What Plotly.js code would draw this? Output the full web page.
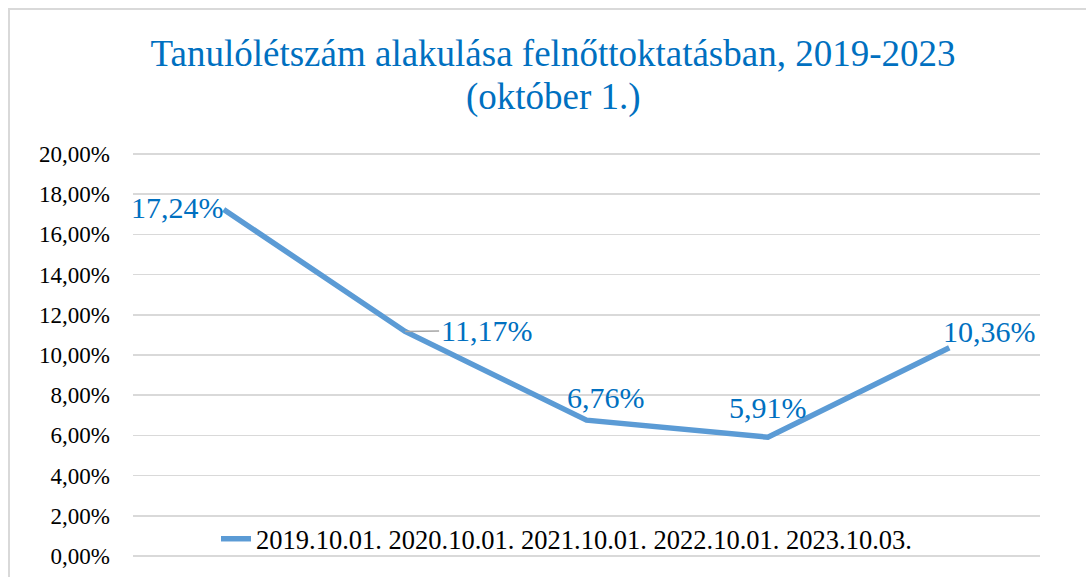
<!DOCTYPE html>
<html>
<head>
<meta charset="utf-8">
<script src="https://cdn.plot.ly/plotly-3.0.1.min.js"></script>
<style>
  html, body { margin: 0; padding: 0; background: #fff; }
  #chart { width: 1086px; height: 577px; }
</style>
</head>
<body>
<div id="chart"></div>
<script>
// ---- data ----
const dates = ['2019.10.01.', '2020.10.01.', '2021.10.01.', '2022.10.01.', '2023.10.03.'];
const percentValues = [17.24, 11.17, 6.76, 5.91, 10.36];
const yTickValues = [0, 2, 4, 6, 8, 10, 12, 14, 16, 18, 20];
const titleLine1 = 'Tanulólétszám alakulása felnőttoktatásban, 2019-2023';
const titleLine2 = '(október 1.)';

// label offsets (px) relative to each point
const labelDx = [-46, 81, 19, 0, 40];
const labelDy = [2, 1, 23, 30, 16];

const fmt = v => v.toFixed(2).replace('.', ',') + '%';

const fontFamily = 'Liberation Serif, Times New Roman, serif';
const blueText = '#0070C0';
const lineBlue = '#5B9BD5';

const trace = {
  type: 'scatter',
  mode: 'lines',
  x: dates,
  y: percentValues.map(v => v / 100),
  name: dates.join(' '),
  line: { color: lineBlue, width: 5.5 },
  hoverinfo: 'skip'
};

const L = 133, R = 46, T = 152, B = 19, W = 1086, H = 577;
const pw = W - L - R, ph = H - T - B;

const annotations = dates.map((d, i) => {
  const a = {
    x: d, y: percentValues[i] / 100, xref: 'x', yref: 'y',
    text: fmt(percentValues[i]),
    font: { family: fontFamily, size: 30, color: blueText },
    xanchor: 'center', yanchor: 'middle'
  };
  if (i === 1) {
    a.showarrow = true;
    a.ax = labelDx[i];
    a.ay = labelDy[i] * -1;
    a.arrowhead = 0;
    a.arrowwidth = 1.5;
    a.arrowcolor = '#a6a6a6';
    a.standoff = 0;
    a.startstandoff = 0;
  } else {
    a.showarrow = false;
    a.xshift = labelDx[i];
    a.yshift = labelDy[i];
  }
  return a;
});

// second title line
annotations.push({
  xref: 'paper', yref: 'paper',
  x: (553 - L) / pw, y: (H - B - 97) / ph,
  xanchor: 'center', yanchor: 'middle',
  text: titleLine2, showarrow: false,
  font: { family: fontFamily, size: 37, color: blueText }
});

const layout = {
  width: W, height: H,
  margin: { l: L, r: R, t: T, b: B, pad: 0 },
  paper_bgcolor: '#ffffff',
  plot_bgcolor: '#ffffff',
  separators: ', ',
  font: { family: fontFamily, color: '#000000' },
  title: {
    text: titleLine1,
    font: { family: fontFamily, size: 37, color: blueText },
    x: 553 / W, xref: 'container', xanchor: 'center',
    y: 1 - 53 / H, yref: 'container', yanchor: 'middle'
  },
  xaxis: {
    type: 'category',
    range: [-0.5, 4.5],
    showticklabels: false,
    showgrid: false,
    zeroline: false,
    showline: false,
    ticks: '',
    fixedrange: true
  },
  yaxis: {
    range: [-0.001, 0.201],
    tickvals: yTickValues.map(v => v / 100),
    tickformat: '.2%',
    showgrid: true,
    gridcolor: '#d9d9d9',
    gridwidth: 1.5,
    zeroline: false,
    showline: false,
    ticks: '',
    ticklabelstandoff: 22,
    tickfont: { family: fontFamily, size: 23, color: '#000000' },
    fixedrange: true
  },
  showlegend: true,
  legend: {
    orientation: 'h',
    x: (216 - L) / pw, xanchor: 'left',
    y: (H - B - 539) / ph, yanchor: 'middle',
    bgcolor: 'rgba(0,0,0,0)',
    font: { family: fontFamily, size: 26.5, color: '#000000' },
    itemwidth: 30
  },
  annotations: annotations,
  shapes: [{
    type: 'rect', xref: 'paper', yref: 'paper',
    x0: (9 - L) / pw, x1: 1.3,
    y0: -0.5, y1: (H - B - 9) / ph,
    line: { color: '#d9d9d9', width: 2 },
    fillcolor: 'rgba(0,0,0,0)'
  }]
};

Plotly.newPlot('chart', [trace], layout, { staticPlot: true, displayModeBar: false });
</script>
</body>
</html>
